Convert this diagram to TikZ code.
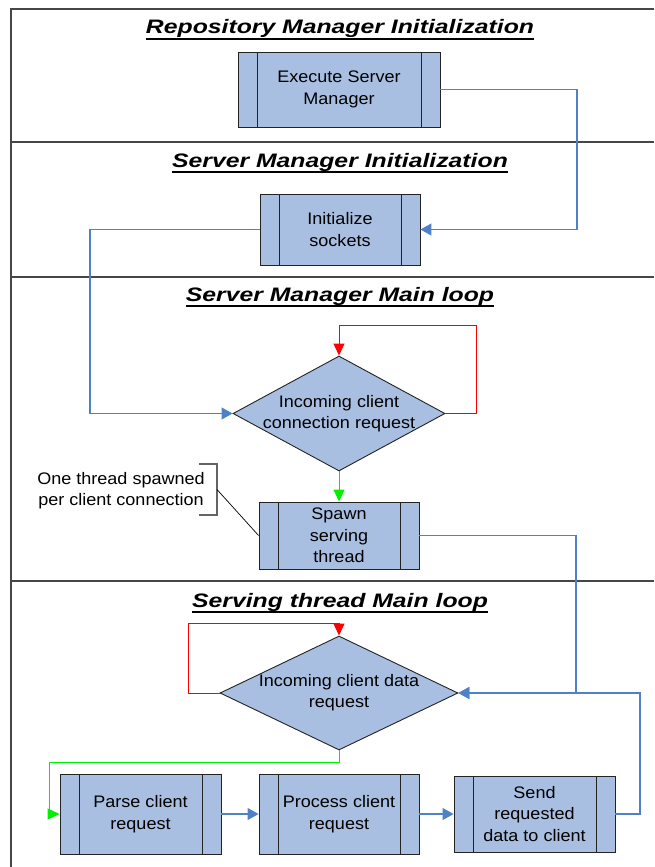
\documentclass[tikz,border=0pt]{standalone}
\usepackage{fontspec}
\newfontfamily\boxfont{Liberation Sans}[FakeStretch=1.08]
\newfontfamily\headfont{Liberation Sans}[FakeStretch=1.27]
\usetikzlibrary{arrows.meta,shapes.geometric}

\definecolor{procfill}{RGB}{169,191,225}
\definecolor{boxedge}{RGB}{35,35,35}
\definecolor{flowblue}{RGB}{79,129,199}
\definecolor{framegray}{RGB}{70,70,70}
\definecolor{colNo}{RGB}{255,0,0}
\definecolor{colYes}{RGB}{0,240,0}
\definecolor{notegray}{RGB}{100,100,100}

\tikzset{
  frameline/.style={draw=framegray, line width=2pt},
  heading/.style={inner sep=0pt, anchor=base,
    font=\headfont\bfseries\itshape\fontsize{19.5}{22}\selectfont},
  headrule/.style={draw=black, line width=1.8pt},
  proc/.style={rectangle, draw=boxedge, line width=0.9pt, fill=procfill,
    inner sep=0pt, align=center, font=\boxfont\fontsize{16.7}{21.5}\selectfont,
    path picture={
      \draw[boxedge, line width=0.9pt]
        ([xshift=19pt]path picture bounding box.north west) --
        ([xshift=19pt]path picture bounding box.south west)
        ([xshift=-19pt]path picture bounding box.north east) --
        ([xshift=-19pt]path picture bounding box.south east);
    }},
  decision/.style={diamond, draw=boxedge, line width=0.9pt, fill=procfill, inner sep=0pt},
  dtext/.style={align=center, inner sep=0pt, font=\boxfont\fontsize{16.7}{21}\selectfont},
  flow/.style={draw=flowblue, line width=1.1pt, -{Triangle[length=11pt,width=12pt]}},
  noflow/.style={draw=colNo, line width=0.9pt, -{Triangle[length=12pt,width=11pt]}},
  yesflow/.style={draw=colYes, line width=0.9pt, -{Triangle[length=12pt,width=11pt]}},
}

\begin{document}
\begin{tikzpicture}[x=1pt, y=-1pt]
\useasboundingbox (0,0) rectangle (654,867);

% swimlane frame
\draw[frameline] (654,9) -- (11,9) -- (11,867);
\draw[frameline] (11,142) -- (654,142);
\draw[frameline] (11,276.5) -- (654,276.5);
\draw[frameline] (11,580.5) -- (654,580.5);

% lane headings
\node[heading] (h1) at (340,34) {Repository Manager Initialization};
\draw[headrule] ([yshift=-5pt]h1.base west) -- ([yshift=-5pt]h1.base east);
\node[heading] (h2) at (340,167) {Server Manager Initialization};
\draw[headrule] ([yshift=-5pt]h2.base west) -- ([yshift=-5pt]h2.base east);
\node[heading] (h3) at (340,301) {Server Manager Main loop};
\draw[headrule] ([yshift=-5pt]h3.base west) -- ([yshift=-5pt]h3.base east);
\node[heading] (h4) at (340,607) {Serving thread Main loop};
\draw[headrule] ([yshift=-5pt]h4.base west) -- ([yshift=-5pt]h4.base east);

% processes and decisions
\node[proc, minimum width=202pt, minimum height=75pt] (exec) at (339,89.5) {Execute Server\\Manager};
\node[proc, minimum width=160pt, minimum height=71pt] (init) at (340,229.5) {Initialize\\sockets};
\node[decision, minimum width=212pt, minimum height=115pt] (conn) at (339,413.5) {};
\node[dtext] (connt) at (conn.center) {Incoming client\\connection request};
\node[proc, minimum width=160pt, minimum height=67pt] (spawn) at (339,535.5) {Spawn\\serving\\thread};
\node[decision, minimum width=238pt, minimum height=114pt] (data) at (339,693) {};
\node[dtext] (datat) at (data.center) {Incoming client data\\request};
\node[proc, minimum width=161pt, minimum height=80pt] (parse) at (140.5,814) {Parse client\\request};
\node[proc, minimum width=160pt, minimum height=80pt] (process) at (339,814) {Process client\\request};
\node[proc, minimum width=161pt, minimum height=76pt] (send) at (534.5,814) {Send\\requested\\data to client};

% connectors
\draw[flow] (exec.east) -| (577,229.5) -- (init.east);
\draw[flow] (init.west) -| (90,413.5) -- (conn.west);
\draw[noflow] (conn.east) -| (476,325) -| (conn.north);
\draw[yesflow] (conn.south) -- (spawn.north);
\draw[flow] (spawn.east) -| (576,693) -- (data.east);
\draw[flow] (send.east) -| (640,693) -- (data.east);
\draw[noflow] (data.west) -| (188,623) -| (data.north);
\draw[yesflow] (data.south) |- (49,762) |- (parse.west);
\draw[flow] (parse.east) -- (process.west);
\draw[flow] (process.east) -- (send.west);

% annotation
\node[dtext] (note) at (121,491) {One thread spawned\\per client connection};
\draw[draw=notegray, line width=1.2pt] (199,464) -- (217,464) -- (217,515) -- (199,515);
\coordinate (notetip) at (217,489.5);
\draw[line width=0.7pt] (notetip) -- (spawn.west);
\end{tikzpicture}
\end{document}
